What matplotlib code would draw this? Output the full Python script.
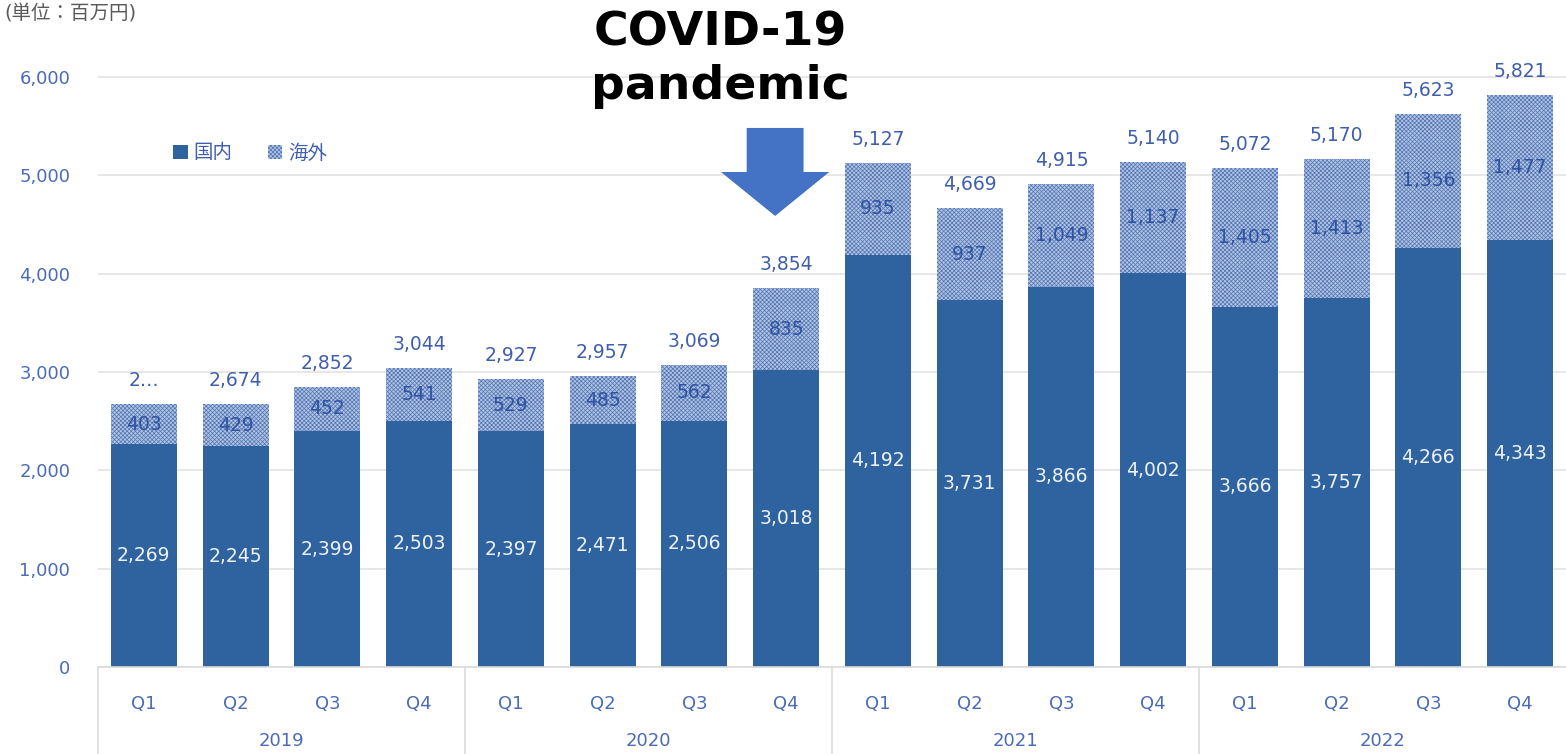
import matplotlib.pyplot as plt
from matplotlib.patches import Patch, Polygon

plt.rcParams['font.family'] = ['DejaVu Sans', 'Noto Sans CJK JP']
plt.rcParams['hatch.linewidth'] = 0.5

# data (百万円)
years = ["2019", "2020", "2021", "2022"]
quarters = ["Q1", "Q2", "Q3", "Q4"]
domestic = [2269, 2245, 2399, 2503, 2397, 2471, 2506, 3018,
            4192, 3731, 3866, 4002, 3666, 3757, 4266, 4343]
overseas = [403, 429, 452, 541, 529, 485, 562, 835,
            935, 937, 1049, 1137, 1405, 1413, 1356, 1477]
totals = [2672, 2674, 2852, 3044, 2927, 2957, 3069, 3854,
          5127, 4669, 4915, 5140, 5072, 5170, 5623, 5821]
total_labels = ["2…"] + ["{:,}".format(t) for t in totals[1:]]

dom_color = '#2E63A0'
ovs_face = '#B3C4E2'
ovs_hatch = '#4E74B4'
label_blue = '#3F5FAE'
ovs_label = '#2F52A3'
tick_blue = '#4A6BB5'

W, H = 1566, 754
fig = plt.figure(figsize=(W / 100, H / 100), dpi=100)
ax = fig.add_axes([98 / W, 87 / H, 1 - 98 / W, 6.5 * 98.33 / H])

x = list(range(len(domestic)))
ax.bar(x, domestic, width=0.72, color=dom_color, zorder=2)
ax.bar(x, overseas, width=0.72, bottom=domestic, facecolor=ovs_face,
       edgecolor=ovs_hatch, hatch='xxxxxxxx', linewidth=0, zorder=2)

for i in x:
    ax.text(i, domestic[i] / 2, "{:,}".format(domestic[i]), ha='center', va='center',
            color='#EEF2F8', fontsize=13.5, zorder=3)
    ax.text(i, domestic[i] + overseas[i] / 2, "{:,}".format(overseas[i]), ha='center',
            va='center', color=ovs_label, fontsize=13.5, zorder=3)
    ax.annotate(total_labels[i], (i, domestic[i] + overseas[i]), xytext=(0, 17),
                textcoords='offset points', ha='center', va='center',
                color=label_blue, fontsize=13.5)

ax.set_xlim(-0.5, len(x) - 0.5)
ax.set_ylim(0, 6500)
ax.set_yticks(range(0, 6001, 1000))
ax.set_yticklabels(["{:,}".format(v) for v in range(0, 6001, 1000)])
ax.tick_params(axis='y', length=0, labelsize=13, labelcolor=tick_blue, pad=20)
ax.yaxis.grid(True, color='#E3E3E3', linewidth=1.2, zorder=0)
ax.set_axisbelow(True)
for s in ['top', 'right', 'left']:
    ax.spines[s].set_visible(False)
ax.spines['bottom'].set_color('#DADADA')
ax.spines['bottom'].set_linewidth(1.2)

# two-level category axis
ax.set_xticks(x)
ax.set_xticklabels(quarters * len(years))
ax.tick_params(axis='x', length=0, labelsize=13, labelcolor=tick_blue, pad=20)
xt = ax.get_xaxis_transform()
for k, yr in enumerate(years):
    ax.text(k * 4 + 1.5, -0.115, yr, transform=xt, ha='center', va='center',
            fontsize=13, color=tick_blue)
    ax.plot([k * 4 - 0.5, k * 4 - 0.5], [0, -0.14], transform=xt, clip_on=False,
            color='#DADADA', linewidth=1.2)

# legend
handles = [Patch(facecolor=dom_color, label='国内'),
           Patch(facecolor=ovs_face, edgecolor=ovs_hatch, hatch='xxxxxxxx',
                 linewidth=0, label='海外')]
leg = fig.legend(handles=handles, loc='center', bbox_to_anchor=(250 / W, 1 - 153 / H),
                 ncol=2, frameon=False, fontsize=14, handlelength=0.75,
                 handleheight=0.75, handletextpad=0.3, columnspacing=1.8)
for t in leg.get_texts():
    t.set_color(label_blue)

# unit note at the top edge
fig.text(4 / W, 1 - 13 / H, '(単位：百万円)', ha='left', va='center',
         fontsize=14, color='#5A5A5A')

# annotation
fig.text(720 / W, 1 - 60 / H, 'COVID-19\npandemic', ha='center', va='center',
         fontsize=34, fontweight='bold', color='black', linespacing=1.25)
cx = 6.88
arrow = Polygon([(cx - 0.31, 5482), (cx + 0.31, 5482), (cx + 0.31, 5034),
                 (cx + 0.59, 5034), (cx, 4587), (cx - 0.59, 5034),
                 (cx - 0.31, 5034)], closed=True, facecolor='#4472C4',
                edgecolor='none', zorder=4)
ax.add_patch(arrow)

fig.savefig('out.png', dpi=100)
